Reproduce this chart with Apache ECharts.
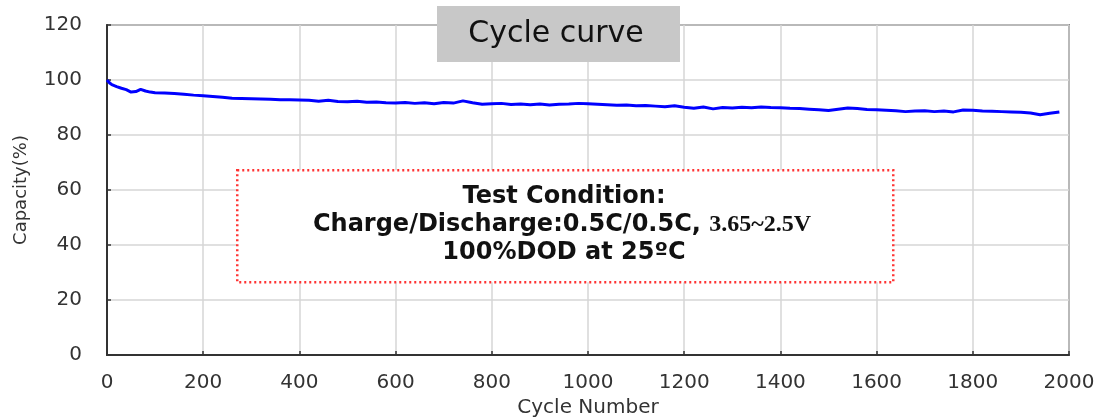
<!DOCTYPE html>
<html>
<head>
<meta charset="utf-8">
<script src="https://cdn.jsdelivr.net/npm/echarts@6/dist/echarts.min.js"></script>
<style>html,body{margin:0;padding:0;background:#fff;}#c{width:1096px;height:418px;}</style>
</head>
<body>
<div id="c"></div>
<script>
var cycles = [0,5,10,20,30,40,50,60,70,80,90,100,120,140,160,180,200,220,240,260,280,300,320,340,360,380,400,420,440,460,480,500,520,540,560,580,600,620,640,660,680,700,720,740,760,780,800,820,840,860,880,900,920,940,960,980,1000,1020,1040,1060,1080,1100,1120,1140,1160,1180,1200,1220,1240,1260,1280,1300,1320,1340,1360,1380,1400,1420,1440,1460,1480,1500,1520,1540,1560,1580,1600,1620,1640,1660,1680,1700,1720,1740,1760,1780,1800,1820,1840,1860,1880,1900,1920,1940,1960,1980];
var capacity = [100,99.0,98.3,97.6,97.0,96.5,95.6,95.8,96.6,96.0,95.6,95.4,95.3,95.1,94.8,94.5,94.3,94.0,93.7,93.4,93.3,93.2,93.1,93.0,92.8,92.8,92.7,92.6,92.3,92.6,92.2,92.1,92.3,91.9,92.0,91.7,91.6,91.8,91.5,91.7,91.4,91.8,91.6,92.4,91.7,91.2,91.4,91.5,91.1,91.3,91.0,91.3,90.9,91.2,91.3,91.5,91.4,91.2,91.0,90.8,90.9,90.6,90.7,90.5,90.3,90.6,90.1,89.7,90.2,89.5,90.0,89.8,90.1,89.9,90.2,90.0,89.9,89.7,89.6,89.4,89.2,88.9,89.4,89.8,89.6,89.3,89.2,89.0,88.8,88.5,88.7,88.8,88.5,88.7,88.4,89.1,89.0,88.7,88.6,88.5,88.4,88.3,88.0,87.4,87.9,88.4];
var xTicks = [0,200,400,600,800,1000,1200,1400,1600,1800,2000];
var yTicks = [0,20,40,60,80,100,120];
var titleText = 'Cycle curve';
var condLines = ['Test Condition:', 'Charge/Discharge:0.5C/0.5C, ', '3.65~2.5V', '100%DOD at 25ºC'];

var pts = cycles.map(function(c,i){return [c, capacity[i]];});
var chart = echarts.init(document.getElementById('c'));
var FONT = 'DejaVu Sans';
chart.setOption({
  animation: false,
  backgroundColor: '#fff',
  grid: {left:107, top:25, right:27, bottom:63, containLabel:false, outerBoundsMode:'none', show:true, borderColor:'#333', borderWidth:1.5},
  xAxis: {
    type:'value', min:0, max:2000, interval:200,
    name:'Cycle Number', nameLocation:'middle', nameGap:43,
    nameTextStyle:{fontFamily:FONT, fontSize:20, color:'#333'},
    axisLine:{show:true, lineStyle:{color:'#333', width:2}},
    axisTick:{show:true, inside:true, length:4, lineStyle:{color:'#333', width:1.5}},
    axisLabel:{fontFamily:FONT, fontSize:20, color:'#333', margin:18,
      formatter:function(v){return xTicks.indexOf(v)>=0? String(v):'';}},
    splitLine:{show:true, lineStyle:{color:'#d6d6d6', width:1.5}}
  },
  yAxis: {
    type:'value', min:0, max:120, interval:20,
    name:'Capacity(%)', nameLocation:'middle', nameGap:77, nameRotate:90,
    nameTextStyle:{fontFamily:FONT, fontSize:18, color:'#333'},
    axisLine:{show:true, lineStyle:{color:'#333', width:2}},
    axisTick:{show:true, inside:true, length:4, lineStyle:{color:'#333', width:1.5}},
    axisLabel:{fontFamily:FONT, fontSize:20, color:'#333', margin:25,
      formatter:function(v){return yTicks.indexOf(v)>=0? String(v):'';}},
    splitLine:{show:true, lineStyle:{color:'#d6d6d6', width:1.5}}
  },
  series: [{
    type:'line', data:pts, showSymbol:false, symbol:'none',
    lineStyle:{color:'#0000ff', width:3}, z:3
  }],
  graphic: [
    {type:'rect', left:437, top:6, shape:{width:243, height:56}, style:{fill:'#c8c8c8'}, z:10},
    {type:'text', x:556, y:34, z:11, style:{text:titleText, fontFamily:FONT, fontSize:30, fill:'#111', align:'center', verticalAlign:'middle'}},
    {type:'rect', left:236, top:169, shape:{width:656, height:112}, style:{fill:'#fff', stroke:'#ff3333', lineWidth:2.5, lineDash:[2,3]}, z:10},
    {type:'text', x:564, y:197, z:11, style:{text:condLines[0], fontFamily:FONT, fontWeight:'bold', fontSize:24, fill:'#111', align:'center', verticalAlign:'middle'}},
    {type:'text', x:562, y:225, z:11, style:{
      text:'{a|'+condLines[1]+'}{b|'+condLines[2]+'}',
      align:'center', verticalAlign:'middle',
      rich:{a:{fontFamily:FONT, fontWeight:'bold', fontSize:24, fill:'#111', color:'#111'},
            b:{fontFamily:'Liberation Serif', fontWeight:'bold', fontSize:24, fill:'#111', color:'#111'}}
    }},
    {type:'text', x:564, y:253, z:11, style:{text:condLines[3], fontFamily:FONT, fontWeight:'bold', fontSize:24, fill:'#111', align:'center', verticalAlign:'middle'}}
  ]
});
</script>
</body>
</html>
